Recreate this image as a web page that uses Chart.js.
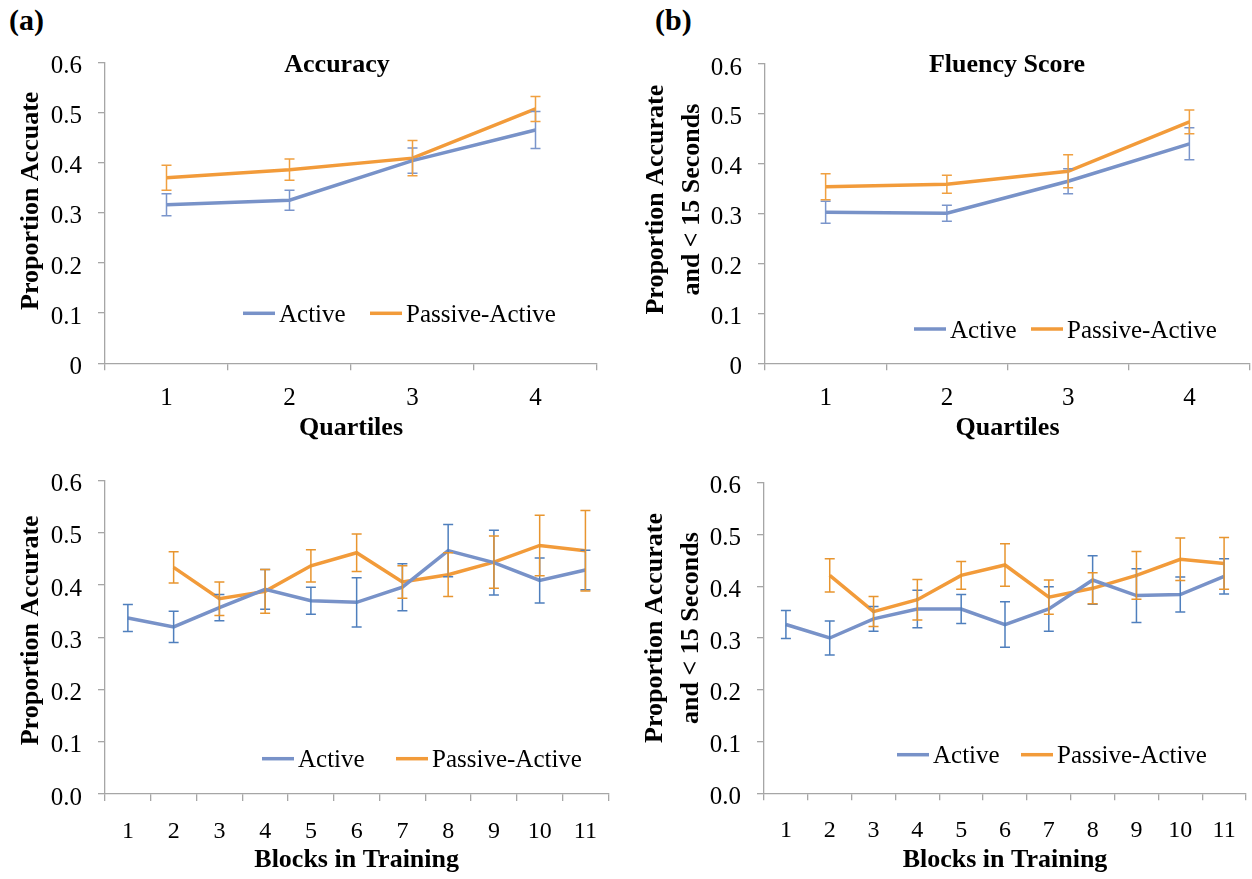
<!DOCTYPE html>
<html>
<head>
<meta charset="utf-8">
<title>Accuracy and Fluency</title>
<script src="https://cdn.jsdelivr.net/npm/chart.js@4.4.0/dist/chart.umd.min.js"></script>
<style>
  body { margin: 0; background: #fff; width: 1252px; height: 879px; position: relative; overflow: hidden; font-family: 'Liberation Serif', serif; }
  canvas { position: absolute; }
  .tag { position: absolute; font-weight: bold; font-size: 30px; line-height: 34px; }
</style>
</head>
<body>
<div class="tag" style="left:9px;top:3px">(a)</div>
<div class="tag" style="left:655px;top:3px">(b)</div>
<canvas id="accQuart" width="620" height="413" style="left:0;top:31px"></canvas>
<canvas id="fluQuart" width="632" height="413" style="left:620px;top:31px"></canvas>
<canvas id="accBlock" width="630" height="427" style="left:0;top:449px"></canvas>
<canvas id="fluBlock" width="632" height="427" style="left:620px;top:449px"></canvas>
<script>
// categories
const quartiles = ['1', '2', '3', '4'];
const blocks = ['1', '2', '3', '4', '5', '6', '7', '8', '9', '10', '11'];

// y tick labels
const yTicksTop = ['0', '0.1', '0.2', '0.3', '0.4', '0.5', '0.6'];
const yTicksBottom = ['0.0', '0.1', '0.2', '0.3', '0.4', '0.5', '0.6'];

// accuracy by quartile
const accActive = [0.316, 0.325, 0.404, 0.465];
const accActiveErr = [0.022, 0.020, 0.025, 0.037];
const accPassive = [0.370, 0.386, 0.409, 0.507];
const accPassiveErr = [0.025, 0.021, 0.035, 0.025];

// fluency by quartile
const fluActive = [0.303, 0.301, 0.365, 0.440];
const fluActiveErr = [0.022, 0.016, 0.025, 0.032];
const fluPassive = [0.354, 0.359, 0.385, 0.484];
const fluPassiveErr = [0.026, 0.018, 0.033, 0.024];

// accuracy by training block (passive group starts at block 2)
const blkAccActive = [0.337, 0.320, 0.357, 0.392, 0.370, 0.367, 0.396, 0.466, 0.443, 0.409, 0.429];
const blkAccActiveErr = [0.026, 0.030, 0.025, 0.038, 0.026, 0.047, 0.045, 0.050, 0.062, 0.043, 0.038];
const blkAccPassive = [null, 0.434, 0.374, 0.388, 0.437, 0.462, 0.406, 0.420, 0.444, 0.476, 0.466];
const blkAccPassiveErr = [null, 0.030, 0.032, 0.042, 0.031, 0.036, 0.031, 0.042, 0.050, 0.058, 0.077];

// fluency by training block
const blkFluActive = [0.326, 0.300, 0.337, 0.356, 0.356, 0.326, 0.356, 0.412, 0.382, 0.384, 0.419];
const blkFluActiveErr = [0.027, 0.033, 0.024, 0.036, 0.028, 0.044, 0.043, 0.047, 0.052, 0.034, 0.034];
const blkFluPassive = [null, 0.421, 0.351, 0.374, 0.421, 0.441, 0.379, 0.396, 0.421, 0.452, 0.444];
const blkFluPassiveErr = [null, 0.032, 0.029, 0.039, 0.027, 0.041, 0.033, 0.030, 0.046, 0.041, 0.050];

const FONT = "'Liberation Serif', 'Times New Roman', serif";
const ACTIVE = '#7892c8';
const PASSIVE = '#f29b3a';
const AXIS = '#a6a6a6';

// --- error bars, drawn from each dataset's `errors` array ---
const errorBars = {
  id: 'errorBars',
  afterDatasetsDraw(chart) {
    const { ctx } = chart;
    const yScale = chart.scales.y;
    chart.data.datasets.forEach((ds, i) => {
      if (!ds.errors) return;
      const meta = chart.getDatasetMeta(i);
      ctx.save();
      ctx.strokeStyle = ds.errorColor || ds.borderColor;
      ctx.lineWidth = 1.5;
      meta.data.forEach((pt, j) => {
        const v = ds.data[j], e = ds.errors[j];
        if (v == null || e == null) return;
        const top = yScale.getPixelForValue(v + e);
        const bot = yScale.getPixelForValue(v - e);
        ctx.beginPath();
        ctx.moveTo(pt.x, top); ctx.lineTo(pt.x, bot);
        ctx.moveTo(pt.x - 5, top); ctx.lineTo(pt.x + 5, top);
        ctx.moveTo(pt.x - 5, bot); ctx.lineTo(pt.x + 5, bot);
        ctx.stroke();
      });
      ctx.restore();
    });
  }
};

// --- legend sitting inside the plot area ---
const inlineLegend = {
  id: 'inlineLegend',
  afterDraw(chart, args, opts) {
    if (!opts.x) return;
    const { ctx, chartArea } = chart;
    const y = chartArea.top + opts.y;
    ctx.save();
    ctx.font = '25px ' + FONT;
    ctx.textBaseline = 'middle';
    ctx.fillStyle = '#000';
    chart.data.datasets.forEach((ds, i) => {
      const x = chartArea.left + opts.x[i];
      ctx.strokeStyle = ds.borderColor;
      ctx.lineWidth = ds.borderWidth;
      ctx.beginPath();
      ctx.moveTo(x, y);
      ctx.lineTo(x + 32, y);
      ctx.stroke();
      ctx.fillText(ds.label, x + 36, y + 2);
    });
    ctx.restore();
  }
};

// --- bold heading drawn over the top of the plot ---
const panelTitle = {
  id: 'panelTitle',
  afterDraw(chart, args, opts) {
    if (!opts.text) return;
    const { ctx, chartArea } = chart;
    ctx.save();
    ctx.font = 'bold 26px ' + FONT;
    ctx.textAlign = 'center';
    ctx.textBaseline = 'middle';
    ctx.fillStyle = '#000';
    ctx.fillText(opts.text, chartArea.left + opts.x, chartArea.top + opts.y);
    ctx.restore();
  }
};

// --- rotated y-axis title, one or two lines, a little above the axis middle ---
const sideTitle = {
  id: 'sideTitle',
  afterDraw(chart, args, opts) {
    if (!opts.lines) return;
    const { ctx, chartArea } = chart;
    ctx.save();
    ctx.font = 'bold 26px ' + FONT;
    ctx.textAlign = 'center';
    ctx.textBaseline = 'middle';
    ctx.fillStyle = '#000';
    ctx.translate(opts.x, (chartArea.top + chartArea.bottom) / 2 + opts.dy);
    ctx.rotate(-Math.PI / 2);
    opts.lines.forEach((line, i) => ctx.fillText(line, 0, i * 36.5));
    ctx.restore();
  }
};

Chart.register(errorBars, inlineLegend, panelTitle, sideTitle);

function makePanel(id, labels, active, activeErr, passive, passiveErr, cfg) {
  return new Chart(document.getElementById(id), {
    type: 'line',
    data: {
      labels,
      datasets: [
        { label: 'Active', data: active, errors: activeErr, borderColor: ACTIVE, errorColor: cfg.activeBar,
          borderWidth: 3.5, pointRadius: 0, tension: 0 },
        { label: 'Passive-Active', data: passive, errors: passiveErr, borderColor: PASSIVE, errorColor: cfg.passiveBar,
          borderWidth: 3.5, pointRadius: 0, tension: 0 }
      ]
    },
    options: {
      responsive: false,
      animation: false,
      events: [],
      layout: { padding: cfg.padding },
      plugins: {
        legend: { display: false },
        tooltip: { enabled: false },
        panelTitle: cfg.title || {},
        inlineLegend: cfg.legend,
        sideTitle: cfg.yTitle
      },
      scales: {
        x: {
          type: 'category',
          offset: true,
          grid: { offset: true, drawOnChartArea: false, tickLength: 7, color: AXIS, lineWidth: 1.3 },
          border: { color: AXIS, width: 1.3 },
          ticks: { font: { family: FONT, size: cfg.xSize }, color: '#000', padding: cfg.xPad, maxRotation: 0, autoSkip: false },
          title: { display: true, text: cfg.xTitle, color: '#000', padding: 0,
                   font: { family: FONT, size: 26, weight: 'bold', lineHeight: 1.2 } },
          afterFit: s => { s.height = cfg.xHeight; }
        },
        y: {
          min: 0,
          max: 0.6,
          grid: { drawOnChartArea: false, tickLength: 7, color: AXIS, lineWidth: 1.3 },
          border: { color: AXIS, width: 1.3 },
          ticks: { stepSize: 0.1, font: { family: FONT, size: 25 }, color: '#000', padding: 16, labelOffset: 4,
                   callback: (v, i) => cfg.yTicks[i] },
          afterFit: s => { s.width = cfg.yWidth; }
        }
      }
    }
  });
}

makePanel('accQuart', quartiles, accActive, accActiveErr, accPassive, accPassiveErr, {
  padding: { top: 31.3, right: 23, left: 0, bottom: 0 },
  yWidth: 105, xHeight: 80.7, xSize: 25, xPad: 13,
  yTicks: yTicksTop, xTitle: 'Quartiles',
  yTitle: { lines: ['Proportion Accuate'], x: 31, dy: -12 },
  title: { text: 'Accuracy', x: 232, y: 3 },
  legend: { x: [138, 265], y: 251 },
  activeBar: '#7a95cb', passiveBar: '#f0a040'
});

makePanel('fluQuart', quartiles, fluActive, fluActiveErr, fluPassive, fluPassiveErr, {
  padding: { top: 33, right: 2, left: 0, bottom: 0 },
  yWidth: 145, xHeight: 80.7, xSize: 25, xPad: 13,
  yTicks: yTicksTop, xTitle: 'Quartiles',
  yTitle: { lines: ['Proportion Accurate', 'and < 15 Seconds'], x: 36, dy: -14 },
  title: { text: 'Fluency Score', x: 242, y: 1 },
  legend: { x: [149, 266], y: 265 },
  activeBar: '#7a95cb', passiveBar: '#f0a040'
});

makePanel('accBlock', blocks, blkAccActive, blkAccActiveErr, blkAccPassive, blkAccPassiveErr, {
  padding: { top: 31.7, right: 21.7, left: 0, bottom: 0 },
  yWidth: 105, xHeight: 82, xSize: 24, xPad: 16,
  yTicks: yTicksBottom, xTitle: 'Blocks in Training',
  yTitle: { lines: ['Proportion Accurate'], x: 31, dy: -7 },
  legend: { x: [157, 291], y: 278 },
  activeBar: '#4f7fbd', passiveBar: '#e8952f'
});

makePanel('fluBlock', blocks, blkFluActive, blkFluActiveErr, blkFluPassive, blkFluPassiveErr, {
  padding: { top: 33.7, right: 6, left: 0, bottom: 0 },
  yWidth: 144, xHeight: 82.7, xSize: 24, xPad: 16,
  yTicks: yTicksBottom, xTitle: 'Blocks in Training',
  yTitle: { lines: ['Proportion Accurate', 'and < 15 Seconds'], x: 35, dy: -10 },
  legend: { x: [133, 257], y: 272 },
  activeBar: '#4f7fbd', passiveBar: '#e8952f'
});
</script>
</body>
</html>
